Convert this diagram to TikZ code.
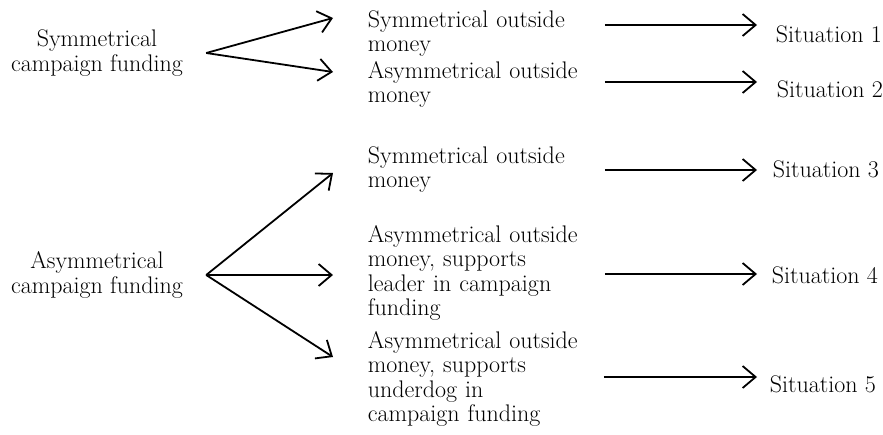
\documentclass[tikz,border=0pt]{standalone}
\usepackage{tikz}
\usetikzlibrary{arrows.meta,calc}

\begin{document}
\begin{tikzpicture}[x=1pt, y=-1pt, line width=1.8pt,
    >={Straight Barb[length=13pt, width=22pt]},
    side/.style = {align=center, inner sep=0, font=\fontsize{24}{24.5}\selectfont},
    mid/.style = {align=left, text width=225pt, inner sep=0, anchor=base west, font=\fontsize{24}{24.5}\selectfont},
    sit/.style = {inner sep=0, anchor=base west, font=\fontsize{24}{24.5}\selectfont}]
    \useasboundingbox (0,0) rectangle (883,434);
        \node[side] (scf) at (97,53) {Symmetrical\\campaign funding};
        \node[side] (acf) at (97,275) {Asymmetrical\\campaign funding};
        \node[mid] (m1) at (367,27) {Symmetrical outside\\money};
        \node[mid] (m2) at (367,78) {Asymmetrical outside\\money};
        \node[mid] (m3) at (367,163) {Symmetrical outside\\money};
        \node[mid] (m4) at (367,242) {Asymmetrical outside\\money, supports\\leader in campaign\\funding};
        \node[mid] (m5) at (367,348) {Asymmetrical outside\\money, supports\\underdog in\\campaign funding};
        \node[sit] (s1) at (775,42) {Situation 1};
        \node[sit] (s2) at (776,97) {Situation 2};
        \node[sit] (s3) at (772,177) {Situation 3};
        \node[sit] (s4) at (771,283) {Situation 4};
        \node[sit] (s5) at (769,392) {Situation 5};
        % funding to outside money
        \draw[->] ([xshift=196pt]scf.west) -- ([xshift=-34pt, yshift=9pt]m1.base west);
        \draw[->] ([xshift=196pt]scf.west) -- ([xshift=-34pt, yshift=6pt]m2.base west);
        \draw[->] ([xshift=196pt]acf.west) -- ([xshift=-34pt, yshift=-10pt]m3.base west);
        \draw[->] ([xshift=196pt]acf.west) -- ([xshift=-34pt, yshift=-33pt]m4.base west);
        \draw[->] ([xshift=196pt]acf.west) -- ([xshift=-34pt, yshift=-9pt]m5.base west);
        % outside money to situations
        \draw[->] ($(m1.east |- s1.base west)+(11,-17)$) -- ($(s1.base west)+(-18,-17)$);
        \draw[->] ($(m2.east |- s2.base west)+(11,-15)$) -- ($(s2.base west)+(-19,-15)$);
        \draw[->] ($(m3.east |- s3.base west)+(11,-7)$) -- ($(s3.base west)+(-15,-7)$);
        \draw[->] ($(m4.east |- s4.base west)+(11,-9)$) -- ($(s4.base west)+(-14,-9)$);
        \draw[->] ($(m5.east |- s5.base west)+(10,-15)$) -- ($(s5.base west)+(-12,-15)$);
\end{tikzpicture}
\end{document}
